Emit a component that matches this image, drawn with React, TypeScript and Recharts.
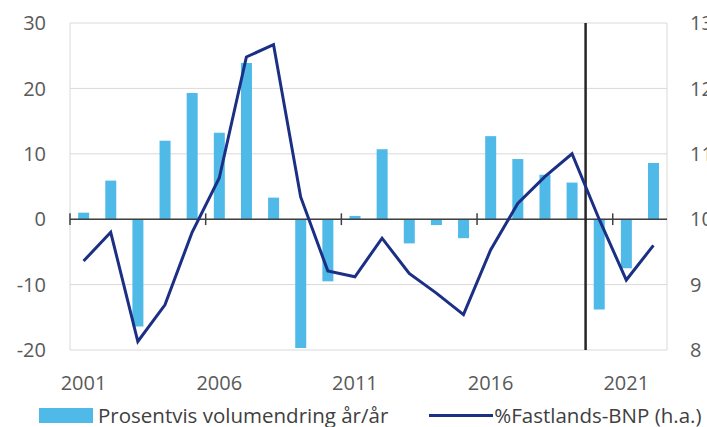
import React from "react";
import {
  ComposedChart,
  Bar,
  Line,
  XAxis,
  YAxis,
  CartesianGrid,
  ReferenceLine,
  Legend,
} from "recharts";

const years = [
  "2001", "2002", "2003", "2004", "2005", "2006", "2007", "2008", "2009", "2010", "2011",
  "2012", "2013", "2014", "2015", "2016", "2017", "2018", "2019", "2020", "2021", "2022",
];
const volumeChange = [
  1.0, 5.9, -16.4, 12.0, 19.3, 13.2, 23.9, 3.3, -19.7, -9.5, 0.5,
  10.7, -3.7, -0.9, -2.9, 12.7, 9.2, 6.8, 5.6, -13.8, -7.5, 8.6,
];
const shareOfGdp = [
  9.36, 9.8, 8.13, 8.69, 9.8, 10.63, 12.48, 12.67, 10.34, 9.21, 9.12,
  9.71, 9.17, 8.87, 8.54, 9.53, 10.24, 10.65, 11.0, 10.0, 9.07, 9.6,
];
const leftTicks = [-20, -10, 0, 10, 20, 30];
const rightTicks = [8, 9, 10, 11, 12, 13];
const xLabelYears = ["2001", "2006", "2011", "2016", "2021"];
const forecastStartYear = "2020";

const barName = "Prosentvis volumendring år/år";
const lineName = "%Fastlands-BNP (h.a.)";

const data = years.map((y, i) => ({
  year: y,
  volume: volumeChange[i],
  share: shareOfGdp[i],
}));

const FONT = "'Open Sans', sans-serif";
const BAR_COLOR = "#4fbae8";
const LINE_COLOR = "#1b2f84";

const renderLegend = () => (
  <div
    style={{
      display: "flex",
      alignItems: "center",
      height: 22,
      fontFamily: FONT,
      fontSize: 20.5,
      lineHeight: "22px",
      color: "#404040",
      whiteSpace: "nowrap",
    }}
  >
    <span style={{ display: "inline-block", width: 54, height: 15, background: BAR_COLOR, marginLeft: 39 }} />
    <span style={{ marginLeft: 5 }}>{barName}</span>
    <span style={{ display: "inline-block", width: 64, height: 3, background: LINE_COLOR, marginLeft: 41 }} />
    <span style={{ marginLeft: 1 }}>{lineName}</span>
  </div>
);

export default function App() {
  return (
    <div style={{ position: "fixed", left: 0, top: 0, width: 707, height: 427, overflow: "hidden", background: "#fff" }}>
      <ComposedChart
        width={707}
        height={427}
        data={data}
        margin={{ top: 23, right: 0, left: 0, bottom: 37 }}
        barCategoryGap="30%"
      >
        <CartesianGrid vertical={false} stroke="#d9d9d9" yAxisId="left" />
        <XAxis
          dataKey="year"
          interval={0}
          ticks={xLabelYears}
          tickLine={false}
          axisLine={false}
          tickSize={6}
          tickMargin={20}
          height={40}
          tick={{ fill: "#595959", fontSize: 20, fontFamily: FONT }}
        />
        <YAxis
          yAxisId="left"
          domain={[-20, 30]}
          ticks={leftTicks}
          width={70}
          tickLine={false}
          axisLine={false}
          tickSize={6}
          tickMargin={18}
          tick={{ fill: "#595959", fontSize: 20, fontFamily: FONT }}
        />
        <YAxis
          yAxisId="right"
          orientation="right"
          domain={[8, 13]}
          ticks={rightTicks}
          width={40}
          tickLine={false}
          axisLine={false}
          tickSize={6}
          tickMargin={17}
          tick={{ fill: "#595959", fontSize: 20, fontFamily: FONT, textAnchor: "start" }}
        />
        <ReferenceLine yAxisId="left" x={years[0]} position="start" stroke="#d9d9d9" />
        <ReferenceLine yAxisId="left" x={years[years.length - 1]} position="end" stroke="#d9d9d9" />
        <Bar
          yAxisId="left"
          dataKey="volume"
          name={barName}
          fill={BAR_COLOR}
          isAnimationActive={false}
        />
        <ReferenceLine yAxisId="left" y={0} stroke="#404040" strokeWidth={1.5} />
        {xLabelYears.map((y) => (
          <ReferenceLine
            key={y}
            yAxisId="left"
            position="start"
            segment={[{ x: y, y: -0.9 }, { x: y, y: 0.9 }]}
            stroke="#404040"
            strokeWidth={1.5}
          />
        ))}
        <ReferenceLine yAxisId="left" x={forecastStartYear} position="start" stroke="#262626" strokeWidth={2.5} />
        <Line
          yAxisId="right"
          dataKey="share"
          name={lineName}
          stroke={LINE_COLOR}
          strokeWidth={3}
          dot={false}
          isAnimationActive={false}
        />
        <Legend
          layout="horizontal"
          verticalAlign="middle"
          align="center"
          content={renderLegend}
          wrapperStyle={{ top: 404, left: 0, width: 707, height: 22 }}
        />
      </ComposedChart>
    </div>
  );
}
